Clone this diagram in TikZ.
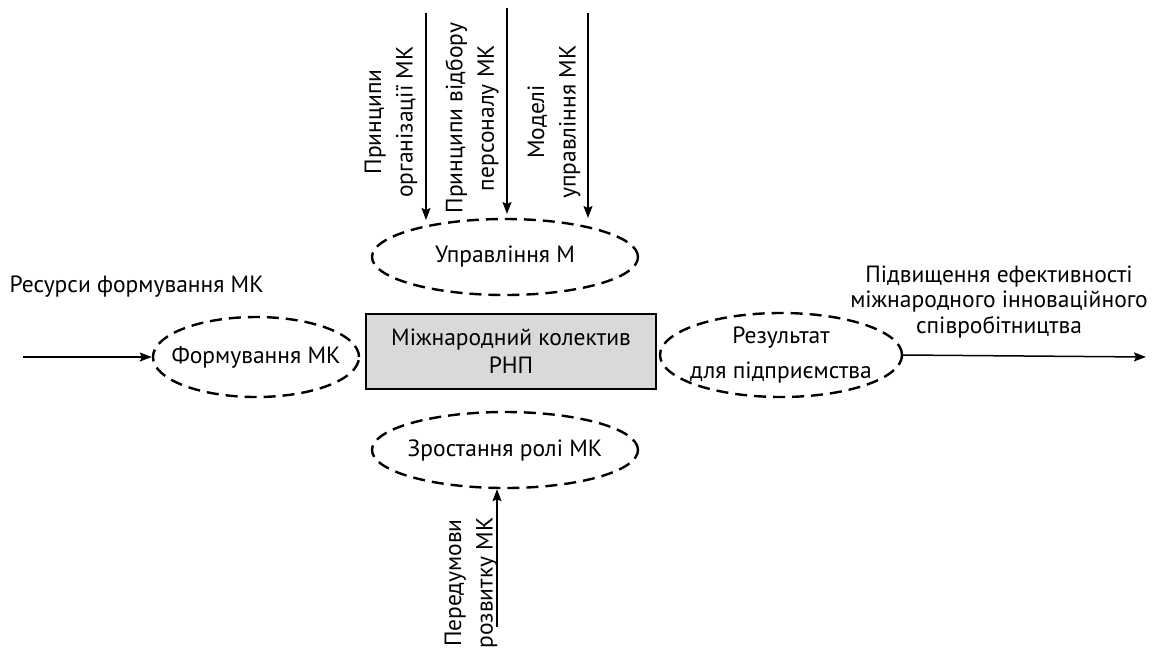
\documentclass[tikz,border=0pt]{standalone}
\usepackage{fontspec}
\setmainfont{PT Sans}
\usetikzlibrary{shapes.geometric,arrows.meta}
\begin{document}
\begin{tikzpicture}[x=1pt,y=-1pt,
  every node/.style={font=\fontsize{23.5}{25.5}\selectfont},
  ell/.style={ellipse,draw,line width=2.4pt,dash pattern=on 12pt off 7pt,inner sep=0pt},
  etext/.style={align=center,inner sep=0pt},
  arr/.style={line width=1.5pt,-{Stealth[length=12pt,width=9pt,inset=2pt]}},
  vlab/.style={rotate=90,align=center,font=\fontsize{23.5}{31.5}\selectfont},
  boxst/.style={draw,line width=2.2pt,fill=black!15,minimum width=290pt,minimum height=75pt,align=center,inner sep=0pt}
]
\useasboundingbox (0,0) rectangle (1166,651);
% central box
\node[boxst,font=\fontsize{23.5}{28}\selectfont] (mk) at (511,351.5) {Міжнародний колектив\\РНП};
% ellipses
\node[ell,minimum width=266pt,minimum height=76pt] (upr) at (505,257) {};
\node[etext] (uprt) at (upr.center) {Управління М};
\node[ell,minimum width=206pt,minimum height=80pt] (form) at (256,357) {};
\node[etext] (formt) at (form.center) {Формування МК};
\node[ell,minimum width=242pt,minimum height=84pt] (res) at (781,355) {};
\node[etext,font=\fontsize{23.5}{35}\selectfont] (rest) at (res.center) {Результат\\для підприємства};
\node[ell,minimum width=266pt,minimum height=76pt] (zr) at (505,450) {};
\node[etext] (zrt) at (zr.center) {Зростання ролі МК};
% top arrows
\coordinate (t1) at (426,13); \coordinate (e1) at (426,220);
\coordinate (t2) at (507,8);  \coordinate (e2) at (507,214);
\coordinate (t3) at (588,13); \coordinate (e3) at (588,218);
\draw[arr] (t1) -- (e1);
\draw[arr] (t2) -- (e2);
\draw[arr] (t3) -- (e3);
\node[vlab] (l1) at (391,122) {Принципи\\організації МК};
\node[vlab] (l2) at (472,118) {Принципи відбору\\персоналу МК};
\node[vlab] (l3) at (554,122) {Моделі\\управління МК};
% left
\coordinate (lin) at (23,357);
\draw[arr] (lin) -- (form.west);
\node[anchor=west] (resl) at (6,287) {Ресурси формування МК};
% right
\coordinate (rout) at (1146,357);
\draw[arr] (res.east) -- (rout);
\node[align=center] (rtxt) at (999,302) {Підвищення ефективності\\міжнародного інноваційного\\співробітництва};
% bottom
\coordinate (b0) at (497,627);
\draw[arr] (b0) -- (zr.south -| b0);
\node[vlab] (l4) at (471,583) {Передумови\\розвитку МК};
\end{tikzpicture}
\end{document}
